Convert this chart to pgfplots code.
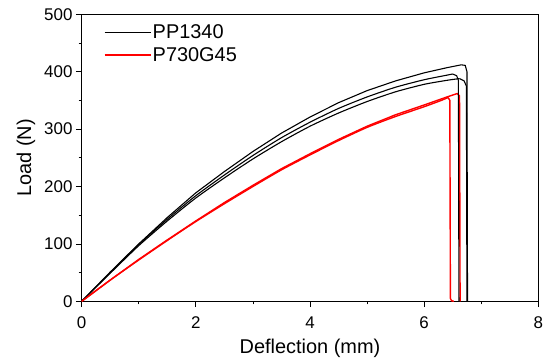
\documentclass[border=0pt]{standalone}
\usepackage{fontspec}
\setmainfont{Liberation Sans}
\usepackage{pgfplots}
\pgfplotsset{compat=1.18}
\begin{document}
\begin{tikzpicture}
\useasboundingbox (-81.7bp,-57.7bp) rectangle (463.3bp,301.3bp);
\begin{axis}[
  at={(0,0)}, anchor=south west,
  scale only axis, width=456.6bp, height=287bp,
  xmin=0, xmax=8, ymin=0, ymax=500,
  xtick={0,2,4,6,8}, ytick={0,100,200,300,400,500},
  minor x tick num=1, minor y tick num=1,
  tick align=outside, xtick pos=bottom, ytick pos=left,
  major tick length=5.7bp, minor tick length=3bp,
  tick style={black, line width=0.8bp},
  axis line style={line width=0.9bp},
  /pgf/number format/assume math mode=true,
  ticklabel style={font=\fontsize{17}{17}\selectfont},
  xticklabel={\rule{0pt}{18bp}\pgfmathprintnumber{\tick}},
  yticklabel={\pgfmathprintnumber{\tick}\hspace{2bp}},
  legend style={at={(rel axis cs:0.048,0.977)}, anchor=north west, draw=none, fill=none,
    font=\fontsize{20}{20}\selectfont, row sep=0bp, inner sep=0pt,
    nodes={inner xsep=1.5bp, inner ysep=3.6bp}},
  legend cell align=left,
  legend image code/.code={\draw[#1] (0bp,0bp) -- (46bp,0bp);},
  clip=false,
]
% PP1340 specimens
\addplot[black, line width=1.1bp] coordinates {
(0,0) (0.5,51) (1,100) (1.5,146) (2,189) (2.5,226) (3,261) (3.5,293) (4,321) (4.5,346)
(5,367) (5.5,384) (6,398) (6.4,407) (6.65,412) (6.72,411) (6.75,400) (6.76,0)};
\addlegendentry{PP1340}
% P730G45 specimens
\addplot[red, line width=1.4bp] coordinates {
(0,0) (0.5,37) (1,73) (1.5,107) (2,140) (2.5,172) (3,202) (3.5,231) (4,257) (4.5,282)
(5,305) (5.5,325) (6,342) (6.4,356) (6.58,362) (6.62,358) (6.63,0)};
\addlegendentry{P730G45}
\addplot[black, line width=1.1bp, smooth, tension=0.4, forget plot] coordinates {
(0,0) (0.5,50) (1,99) (1.5,143) (2,184) (2.5,220) (3,254) (3.5,285) (4,312) (4.5,336)
(5,356) (5.5,373) (6,386) (6.4,394) (6.5,396)};
\addplot[black, line width=1.1bp, forget plot] coordinates {(6.5,396) (6.57,393) (6.6,385) (6.61,0)};
\addplot[black, line width=1.1bp, smooth, tension=0.4, forget plot] coordinates {
(0,0) (0.5,49) (1,97) (1.5,140) (2,180) (2.5,215) (3,248) (3.5,278) (4,305) (4.5,328)
(5,348) (5.5,365) (6,378) (6.4,385) (6.62,388)};
\addplot[black, line width=1.1bp, forget plot] coordinates {(6.62,388) (6.7,384) (6.74,375) (6.75,0)};
\addplot[red, line width=1.4bp, smooth, tension=0.4, forget plot] coordinates {
(0,0) (0.5,37) (1,72) (1.5,106) (2,139) (2.5,170) (3,200) (3.5,229) (4,255) (4.5,280)
(5,303) (5.5,322) (6,339) (6.3,350) (6.42,355)};
\addplot[red, line width=1.4bp, forget plot] coordinates {(6.42,355) (6.45,350) (6.46,5) (6.48,1) (6.52,0)};
\node[anchor=base, yshift=-52bp, font=\fontsize{20}{20}\selectfont]
  at (axis description cs:0.5,0) {Deflection (mm)};
\node[anchor=base, rotate=90, font=\fontsize{20}{20}\selectfont]
  at (axis description cs:-0.111,0.5) {Load (N)};
\end{axis}
\end{tikzpicture}
\end{document}
